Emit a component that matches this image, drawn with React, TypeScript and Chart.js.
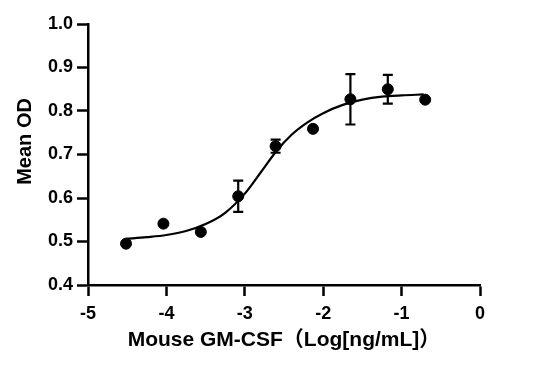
import React, { useEffect, useRef } from "react";
import { Chart, registerables } from "chart.js";

Chart.register(...registerables);

// Measured points (log10 concentration vs mean OD)
const logConc = [-4.515, -4.038, -3.561, -3.084, -2.607, -2.13, -1.653, -1.176, -0.699];
const meanOD = [0.495, 0.541, 0.522, 0.604, 0.719, 0.759, 0.827, 0.85, 0.826];
const errOD = [0, 0, 0, 0.036, 0.015, 0, 0.058, 0.033, 0];

// Fitted curve
const fitX = [-4.52, -4.25, -4.0, -3.75, -3.5, -3.25, -3.0, -2.8, -2.6, -2.4, -2.2, -2.0, -1.75, -1.5, -1.25, -1.0, -0.72];
const fitY = [0.506, 0.51, 0.515, 0.524, 0.54, 0.566, 0.61, 0.658, 0.707, 0.746, 0.774, 0.795, 0.814, 0.826, 0.833, 0.836, 0.838];

const xTickValues = [-5, -4, -3, -2, -1, 0];
const yTickValues = [0.4, 0.5, 0.6, 0.7, 0.8, 0.9, 1.0];

const xTitle = "Mouse GM-CSF（Log[ng/mL]）";
const yTitle = "Mean OD";

const FONT = "'Liberation Sans', Arial, 'Noto Sans CJK SC', sans-serif";

const errorBarPlugin = {
  id: "errorBars",
  afterDatasetsDraw(chart: any) {
    const { ctx, scales } = chart;
    const x = scales.x;
    const y = scales.y;
    ctx.save();
    ctx.strokeStyle = "#000";
    ctx.lineWidth = 2.2;
    logConc.forEach((lx, i) => {
      const e = errOD[i];
      if (!e) return;
      const px = x.getPixelForValue(lx);
      const top = y.getPixelForValue(meanOD[i] + e);
      const bot = y.getPixelForValue(meanOD[i] - e);
      ctx.beginPath();
      ctx.moveTo(px, top);
      ctx.lineTo(px, bot);
      ctx.moveTo(px - 5, top);
      ctx.lineTo(px + 5, top);
      ctx.moveTo(px - 5, bot);
      ctx.lineTo(px + 5, bot);
      ctx.stroke();
    });
    ctx.restore();
  },
};

const yTitlePlugin = {
  id: "yTitleOffset",
  afterDraw(chart: any) {
    const { ctx, chartArea } = chart;
    const cy = chartArea.top + (chartArea.bottom - chartArea.top) * 0.45;
    ctx.save();
    ctx.translate(25, cy);
    ctx.rotate(-Math.PI / 2);
    ctx.font = `bold 20px ${FONT}`;
    ctx.fillStyle = "#000";
    ctx.textAlign = "center";
    ctx.textBaseline = "middle";
    ctx.fillText(yTitle, 0, 0);
    ctx.restore();
  },
};

export default function App() {
  const canvasRef = useRef<HTMLCanvasElement | null>(null);

  useEffect(() => {
    if (!canvasRef.current) return;
    const chart = new Chart(canvasRef.current, {
      type: "scatter",
      data: {
        datasets: [
          {
            type: "line",
            data: fitX.map((x, i) => ({ x, y: fitY[i] })),
            borderColor: "#000",
            borderWidth: 2.2,
            pointRadius: 0,
            fill: false,
            cubicInterpolationMode: "monotone",
            order: 2,
          } as any,
          {
            type: "scatter",
            data: logConc.map((x, i) => ({ x, y: meanOD[i] })),
            backgroundColor: "#000",
            borderColor: "#000",
            pointRadius: 5.5,
            pointHoverRadius: 5.5,
            order: 1,
          },
        ],
      },
      options: {
        animation: false,
        responsive: true,
        maintainAspectRatio: false,
        layout: { padding: { left: 0, top: 24, right: 53, bottom: 0 } },
        plugins: { legend: { display: false }, tooltip: { enabled: false } },
        scales: {
          x: {
            type: "linear",
            min: -5,
            max: 0,
            afterFit: (s: any) => {
              s.height = 83;
            },
            afterBuildTicks: (s: any) => {
              s.ticks = xTickValues.map((v) => ({ value: v }));
            },
            ticks: {
              color: "#000",
              font: { family: FONT, size: 18, weight: "bold" },
              padding: 7,
              callback: (v: any) => String(v),
            },
            grid: {
              drawOnChartArea: false,
              drawTicks: true,
              tickLength: 11,
              tickWidth: 2.5,
              color: "#000",
            },
            border: { display: true, color: "#000", width: 2.5 },
            title: {
              display: true,
              text: xTitle,
              color: "#000",
              font: { family: FONT, size: 21, weight: "bold" },
              padding: { top: 0, bottom: 15 },
            },
          },
          y: {
            type: "linear",
            min: 0.4,
            max: 1.0,
            afterFit: (s: any) => {
              s.width = 88;
            },
            afterBuildTicks: (s: any) => {
              s.ticks = yTickValues.map((v) => ({ value: v }));
            },
            ticks: {
              color: "#000",
              font: { family: FONT, size: 18, weight: "bold" },
              padding: 4,
              callback: (v: any) => Number(v).toFixed(1),
            },
            grid: {
              drawOnChartArea: false,
              drawTicks: true,
              tickLength: 11,
              tickWidth: 2.5,
              color: "#000",
            },
            border: { display: true, color: "#000", width: 2.5 },
            title: { display: false },
          },
        },
      },
      plugins: [errorBarPlugin, yTitlePlugin],
    });
    return () => chart.destroy();
  }, []);

  return (
    <div style={{ position: "fixed", left: 0, top: 0, width: 533, height: 368, background: "#fff" }}>
      <canvas ref={canvasRef} />
    </div>
  );
}
